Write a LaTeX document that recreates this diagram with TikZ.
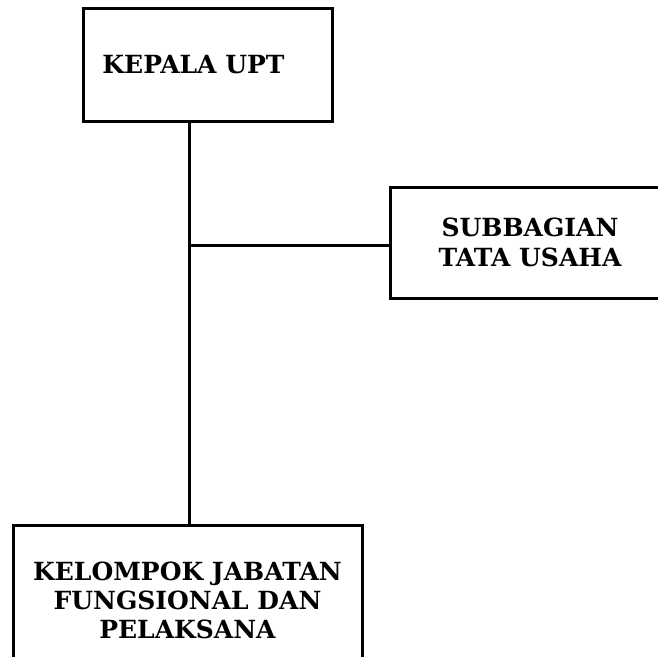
\documentclass[tikz,border=0pt]{standalone}
\usepackage{fontspec}
\setmainfont{DejaVu Serif}
\usepackage{tikz}
\usetikzlibrary{positioning, calc}

\begin{document}
\begin{tikzpicture}[
  x=1pt, y=-1pt,
  unit/.style={rectangle, draw=black, fill=white, line width=3pt, align=center, inner sep=0pt},
  orgline/.style={draw=black, line width=3pt},
]
  \useasboundingbox[fill=white] (0,0) rectangle (658,656);

  % Boxes
  \node[unit, minimum width=249pt, minimum height=113pt, font=\bfseries\fontsize{25}{29}\selectfont] (kepala) at (207.5,64.5) {KEPALA UPT\hspace{28pt}};
  \node[unit, minimum width=280pt, minimum height=111pt, font=\bfseries\fontsize{25}{30}\selectfont] (subbag) at (530,242.5) {SUBBAGIAN\\TATA USAHA};
  \node[unit, minimum width=349pt, minimum height=150pt, font=\bfseries\fontsize{25}{29}\selectfont] (kelompok) at (187.5,600) {KELOMPOK JABATAN\\FUNGSIONAL DAN\\PELAKSANA};

  % Lines
  \coordinate (junction) at (189,245);
  \draw[orgline] (kepala.south -| junction) -- (kelompok.north -| junction);
  \draw[orgline] (junction) -- (subbag.west |- junction);
\end{tikzpicture}
\end{document}
